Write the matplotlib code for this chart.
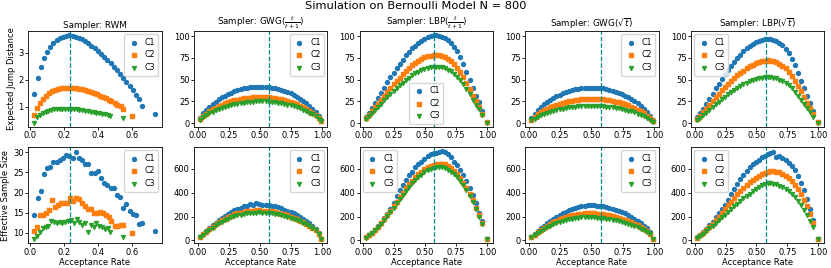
import matplotlib
matplotlib.use("Agg")
import matplotlib.pyplot as plt

# ---- RWM (acceptance rate, ESJD, ESS) ----
rwm_x1 = [0.025, 0.044, 0.063, 0.081, 0.100, 0.118, 0.137, 0.155, 0.174, 0.193, 0.211, 0.230,
          0.249, 0.267, 0.286, 0.304, 0.323, 0.342, 0.360, 0.379, 0.397, 0.416, 0.435, 0.453,
          0.472, 0.490, 0.509, 0.528, 0.546, 0.565, 0.583, 0.602, 0.621, 0.639, 0.658, 0.735]
rwm_jd1 = [1.48, 2.07, 2.48, 2.83, 3.05, 3.24, 3.37, 3.48, 3.56, 3.61, 3.64, 3.65,
           3.64, 3.61, 3.57, 3.51, 3.44, 3.36, 3.27, 3.18, 3.08, 2.97, 2.86, 2.74,
           2.62, 2.49, 2.36, 2.22, 2.08, 1.93, 1.78, 1.62, 1.46, 1.30, 1.02, 0.75]
rwm_ess1 = [14.5, 18.7, 20.3, 24.5, 26.0, 26.4, 27.6, 27.6, 28.0, 28.6, 29.3, 29.2,
            28.7, 30.2, 28.6, 28.0, 27.0, 27.0, 24.8, 24.8, 25.4, 23.7, 22.3, 21.9,
            21.2, 21.2, 19.4, 18.9, 16.2, 17.2, 15.5, 14.7, 14.5, 12.2, 12.4, 10.5]

rwm_x2 = [0.025, 0.042, 0.060, 0.077, 0.095, 0.112, 0.129, 0.147, 0.164, 0.182, 0.199, 0.216,
          0.234, 0.251, 0.269, 0.286, 0.303, 0.321, 0.338, 0.356, 0.373, 0.390, 0.408, 0.425,
          0.443, 0.460, 0.477, 0.495, 0.512, 0.530, 0.547, 0.595]
rwm_jd2 = [0.70, 0.97, 1.16, 1.31, 1.42, 1.51, 1.58, 1.63, 1.67, 1.70, 1.71, 1.72,
           1.72, 1.71, 1.70, 1.68, 1.65, 1.62, 1.59, 1.55, 1.51, 1.47, 1.42, 1.37,
           1.32, 1.27, 1.21, 1.15, 1.09, 1.02, 0.92, 0.67]
rwm_ess2 = [10.3, 11.5, 14.3, 14.5, 15.0, 15.7, 18.2, 16.3, 16.8, 17.3, 17.5, 17.3,
            18.6, 18.0, 18.6, 18.3, 17.3, 16.6, 16.0, 15.8, 15.0, 15.0, 15.2, 14.8,
            14.4, 13.8, 13.0, 11.7, 11.7, 12.0, 12.0, 10.0]

rwm_x3 = [0.025, 0.042, 0.058, 0.075, 0.091, 0.108, 0.124, 0.141, 0.157, 0.174, 0.190, 0.207,
          0.223, 0.240, 0.256, 0.273, 0.289, 0.306, 0.322, 0.339, 0.355, 0.372, 0.388, 0.405,
          0.421, 0.438, 0.454, 0.471, 0.545]
rwm_jd3 = [0.42, 0.62, 0.71, 0.78, 0.83, 0.87, 0.89, 0.91, 0.92, 0.93, 0.93, 0.93,
           0.93, 0.92, 0.92, 0.91, 0.90, 0.88, 0.87, 0.85, 0.83, 0.81, 0.79, 0.77,
           0.75, 0.73, 0.71, 0.68, 0.60]
rwm_ess3 = [8.5, 9.2, 10.2, 11.2, 11.3, 11.7, 12.9, 12.6, 12.5, 12.7, 12.3, 12.6,
            13.0, 13.2, 12.3, 13.3, 12.6, 11.8, 12.5, 10.2, 12.0, 11.5, 12.3, 11.7,
            11.4, 10.9, 11.2, 10.2, 9.0]

# ---- acceptance rates for the gradient samplers ----
grid_x = [0.02, 0.045, 0.07, 0.095, 0.12, 0.145, 0.17, 0.195, 0.22, 0.245, 0.27, 0.295, 0.32,
          0.345, 0.37, 0.395, 0.42, 0.445, 0.47, 0.495, 0.52, 0.545, 0.57, 0.595, 0.62, 0.645,
          0.67, 0.695, 0.72, 0.745, 0.77, 0.795, 0.82, 0.845, 0.87, 0.895, 0.92, 0.945, 0.97, 0.99]
lbp_x = [0.02, 0.045, 0.07, 0.095, 0.12, 0.145, 0.17, 0.195, 0.22, 0.245, 0.27, 0.295, 0.32,
         0.345, 0.37, 0.395, 0.42, 0.445, 0.47, 0.495, 0.52, 0.545, 0.57, 0.59, 0.61, 0.635,
         0.66, 0.685, 0.71, 0.735, 0.76, 0.785, 0.81, 0.835, 0.86, 0.885, 0.91, 0.935, 0.96, 1.0]

# GWG(t/(t+1))
gwg1_jd1 = [6.2, 11.2, 15.3, 18.9, 22.0, 24.8, 27.3, 29.6, 31.7, 33.5, 35.2, 36.6, 37.8, 38.9,
            39.9, 40.6, 41.2, 41.6, 41.9, 42.0, 42.0, 41.7, 41.4, 40.9, 40.2, 39.3, 38.3, 37.1,
            35.7, 34.2, 32.4, 30.5, 28.3, 25.9, 23.2, 20.2, 16.8, 12.9, 8.4, 3.7]
gwg1_jd2 = [4.4, 8.0, 11.0, 13.5, 15.7, 17.7, 19.5, 21.2, 22.6, 23.9, 25.1, 26.1, 27.0, 27.8,
            28.5, 29.0, 29.4, 29.7, 29.9, 30.0, 30.0, 29.8, 29.6, 29.2, 28.7, 28.1, 27.4, 26.5,
            25.5, 24.4, 23.2, 21.8, 20.2, 18.5, 16.6, 14.4, 12.0, 9.2, 6.0, 2.7]
gwg1_jd3 = [3.7, 6.7, 9.1, 11.2, 13.1, 14.8, 16.3, 17.6, 18.9, 20.0, 20.9, 21.8, 22.5, 23.2,
            23.7, 24.2, 24.5, 24.8, 24.9, 25.0, 25.0, 24.9, 24.6, 24.3, 23.9, 23.4, 22.8, 22.1,
            21.3, 20.4, 19.3, 18.1, 16.9, 15.4, 13.8, 12.0, 10.0, 7.7, 5.0, 2.2]
gwg1_ess1 = [30, 55, 80, 105, 130, 150, 170, 190, 205, 222, 240, 252, 265, 272, 285, 292, 308,
             298, 310, 305, 300, 296, 298, 290, 285, 276, 270, 258, 250, 238, 228, 215, 200,
             182, 165, 145, 120, 95, 62, 15]
gwg1_ess2 = [28, 50, 72, 95, 115, 135, 152, 168, 182, 195, 207, 218, 226, 233, 238, 244, 247,
             250, 252, 253, 250, 249, 246, 243, 238, 232, 225, 218, 210, 200, 190, 178, 166,
             152, 138, 122, 104, 84, 58, 15]
gwg1_ess3 = [27, 48, 68, 88, 108, 126, 142, 157, 170, 182, 193, 202, 210, 216, 221, 226, 229,
             231, 233, 234, 233, 231, 229, 226, 222, 217, 211, 205, 198, 190, 181, 171, 160,
             148, 135, 120, 103, 84, 58, 13]

# LBP(t/(t+1))
lbp1_jd1 = [7, 12, 17, 23, 29, 35, 41, 47, 53, 58, 63, 68, 73, 78, 82, 86, 89, 92, 95, 97,
            99, 100.5, 101, 101, 100.5, 99.5, 98, 95.5, 92, 88, 83, 76, 68, 59, 50, 40, 31, 24, 14, 1]
lbp1_jd2 = [5.4, 9.3, 13.5, 18.0, 22.5, 27.0, 31.5, 36.0, 40.5, 44.5, 48.5, 52.5, 56.5, 60.0,
            63.5, 66.5, 69.5, 72.0, 74.0, 75.8, 77.0, 77.8, 78.3, 78.3, 78.0, 77.2, 76.0, 74.0,
            71.5, 68.0, 64.0, 59.0, 53.0, 46.0, 39.0, 31.5, 25.0, 19.0, 11.0, 1.0]
lbp1_jd3 = [4.5, 7.7, 11.3, 15.0, 18.8, 22.5, 26.2, 30.0, 33.5, 37.0, 40.3, 43.5, 46.5, 49.5,
            52.3, 55.0, 57.3, 59.3, 61.0, 62.5, 63.7, 64.5, 65.0, 65.1, 64.8, 64.2, 63.2, 61.6,
            59.5, 56.8, 53.5, 49.5, 44.5, 39.0, 33.0, 26.5, 21.0, 16.0, 9.0, 0.5]
lbp1_ess1 = [25, 45, 65, 90, 120, 150, 185, 225, 265, 310, 370, 420, 465, 505, 545, 575, 610,
             635, 660, 685, 705, 725, 735, 730, 740, 748, 740, 720, 695, 660, 630, 590, 545,
             500, 440, 380, 310, 230, 160, 15]
lbp1_ess2 = [25, 45, 65, 88, 115, 145, 178, 212, 248, 285, 325, 365, 400, 435, 470, 500, 530,
             555, 575, 595, 610, 620, 630, 635, 640, 642, 638, 625, 605, 580, 555, 520, 480,
             440, 390, 335, 275, 210, 145, 15]
lbp1_ess3 = [24, 44, 63, 85, 110, 140, 170, 203, 238, 272, 310, 345, 380, 415, 448, 478, 505,
             530, 550, 570, 585, 598, 605, 610, 612, 610, 605, 592, 575, 553, 530, 498, 460,
             420, 372, 320, 262, 200, 135, 12]

# GWG(sqrt t)
gwg2_jd1 = [6.1, 10.9, 15.0, 18.4, 21.5, 24.2, 26.7, 28.9, 30.9, 32.7, 34.3, 35.7, 36.9, 38.0,
            38.9, 39.6, 40.2, 40.6, 40.9, 41.0, 41.0, 40.8, 40.4, 39.9, 39.2, 38.4, 37.4, 36.2,
            34.9, 33.4, 31.7, 29.7, 27.6, 25.3, 22.6, 19.7, 16.4, 12.6, 8.2, 3.6]
gwg2_jd2 = [4.1, 7.5, 10.2, 12.6, 14.7, 16.5, 18.2, 19.7, 21.1, 22.3, 23.4, 24.4, 25.2, 26.0,
            26.6, 27.1, 27.5, 27.7, 27.9, 28.0, 28.0, 27.8, 27.6, 27.2, 26.8, 26.2, 25.5, 24.8,
            23.8, 22.8, 21.6, 20.3, 18.9, 17.2, 15.5, 13.4, 11.2, 8.6, 5.6, 2.5]
gwg2_jd3 = [3.0, 5.3, 7.3, 9.0, 10.5, 11.8, 13.0, 14.1, 15.1, 16.0, 16.7, 17.4, 18.0, 18.5,
            19.0, 19.3, 19.6, 19.8, 19.9, 20.0, 20.0, 19.9, 19.7, 19.5, 19.1, 18.7, 18.2, 17.7,
            17.0, 16.3, 15.4, 14.5, 13.5, 12.3, 11.0, 9.6, 8.0, 6.2, 4.0, 1.8]
gwg2_ess1 = [28, 52, 76, 100, 122, 143, 162, 180, 197, 212, 226, 240, 252, 262, 270, 278, 284,
             290, 295, 296, 294, 292, 290, 285, 280, 274, 266, 258, 248, 238, 226, 212, 198,
             182, 165, 146, 124, 100, 68, 15]
gwg2_ess2 = [27, 48, 68, 88, 106, 123, 138, 152, 165, 176, 186, 195, 203, 210, 215, 220, 223,
             226, 228, 229, 227, 225, 222, 219, 215, 210, 204, 198, 191, 183, 174, 164, 153,
             141, 128, 114, 98, 80, 56, 13]
gwg2_ess3 = [25, 44, 62, 79, 95, 110, 124, 136, 147, 157, 165, 172, 178, 183, 187, 190, 192,
             193, 194, 194, 192, 190, 188, 185, 181, 177, 172, 167, 161, 154, 147, 139, 130,
             120, 110, 98, 85, 70, 50, 12]

# LBP(sqrt t)
lbp2_jd1 = [6.7, 11.5, 16.5, 22.0, 28.0, 34.0, 40.0, 45.5, 51.0, 56.0, 61.0, 66.0, 70.5, 75.0,
            79.0, 82.5, 86.0, 89.0, 91.5, 93.5, 95.0, 96.2, 97.0, 97.2, 97.0, 96.2, 94.8, 92.5,
            89.5, 85.5, 80.5, 74.0, 66.5, 58.0, 49.0, 40.0, 31.0, 23.5, 14.0, 1.0]
lbp2_jd2 = [5.0, 8.6, 12.5, 16.5, 21.0, 25.5, 30.0, 34.0, 38.0, 41.5, 45.0, 48.5, 52.0, 55.0,
            58.0, 60.5, 63.0, 65.5, 67.5, 69.0, 70.3, 71.3, 72.0, 72.2, 72.0, 71.3, 70.0, 68.3,
            66.0, 63.0, 59.0, 54.5, 49.0, 43.0, 36.5, 29.5, 23.0, 17.5, 10.0, 0.8]
lbp2_jd3 = [3.7, 6.3, 9.2, 12.2, 15.3, 18.5, 21.5, 24.5, 27.5, 30.3, 33.0, 35.5, 38.0, 40.3,
            42.5, 44.5, 46.3, 48.0, 49.5, 50.7, 51.7, 52.4, 52.9, 53.0, 52.8, 52.3, 51.5, 50.2,
            48.5, 46.3, 43.5, 40.0, 36.0, 31.5, 26.8, 21.8, 17.0, 12.8, 7.5, 0.5]
lbp2_ess1 = [25, 45, 68, 95, 125, 158, 192, 228, 265, 300, 340, 385, 430, 470, 510, 545, 580,
             610, 635, 655, 675, 695, 710, 720, 735, 740, 700, 705, 690, 670, 650, 620, 585,
             540, 480, 420, 345, 260, 170, 15]
lbp2_ess2 = [24, 42, 62, 85, 110, 138, 168, 200, 232, 262, 295, 325, 355, 385, 415, 440, 465,
             488, 505, 525, 540, 555, 565, 572, 580, 578, 575, 570, 555, 540, 520, 495, 465,
             430, 390, 340, 285, 225, 150, 12]
lbp2_ess3 = [23, 40, 58, 78, 100, 122, 145, 168, 192, 215, 240, 262, 285, 308, 330, 352, 372,
             392, 410, 428, 445, 460, 475, 478, 480, 475, 468, 458, 445, 428, 410, 388, 362,
             332, 298, 258, 212, 165, 110, 10]

titles = ['Sampler: RWM', r'Sampler: GWG($\frac{t}{t+1}$)', r'Sampler: LBP($\frac{t}{t+1}$)',
          r'Sampler: GWG($\sqrt{t}$)', r'Sampler: LBP($\sqrt{t}$)']
optimal = [0.234, 0.574, 0.574, 0.574, 0.574]

panels = [
    ([rwm_x1, rwm_x2, rwm_x3], [rwm_jd1, rwm_jd2, rwm_jd3], [rwm_ess1, rwm_ess2, rwm_ess3]),
    ([grid_x] * 3, [gwg1_jd1, gwg1_jd2, gwg1_jd3], [gwg1_ess1, gwg1_ess2, gwg1_ess3]),
    ([lbp_x] * 3, [lbp1_jd1, lbp1_jd2, lbp1_jd3], [lbp1_ess1, lbp1_ess2, lbp1_ess3]),
    ([grid_x] * 3, [gwg2_jd1, gwg2_jd2, gwg2_jd3], [gwg2_ess1, gwg2_ess2, gwg2_ess3]),
    ([lbp_x] * 3, [lbp2_jd1, lbp2_jd2, lbp2_jd3], [lbp2_ess1, lbp2_ess2, lbp2_ess3]),
]
legend_top = ['upper right', 'upper right', 'lower center', 'upper right', 'upper left']
legend_bot = ['upper right', 'upper right', 'upper left', 'upper right', 'upper left']

colors = ['tab:blue', 'tab:orange', 'tab:green']
markers = ['o', 's', 'v']
labels = ['C1', 'C2', 'C3']

fs = 6.0
fig, axes = plt.subplots(2, 5, figsize=(8.31, 2.68), dpi=100)

for j, (xs, jds, esss) in enumerate(panels):
    for row, ys in enumerate([jds, esss]):
        ax = axes[row, j]
        for k in range(3):
            ax.scatter(xs[k], ys[k], s=8, color=colors[k], marker=markers[k], label=labels[k])
        ax.axvline(optimal[j], ls='--', color='darkcyan', lw=0.9)
        ax.tick_params(labelsize=fs, length=2, width=0.6, pad=1.2)
        for sp in ax.spines.values():
            sp.set_linewidth(0.6)
        loc = legend_top[j] if row == 0 else legend_bot[j]
        ax.legend(loc=loc, fontsize=fs - 0.3, handletextpad=0.6, borderpad=0.45,
                  labelspacing=0.45, handlelength=1.5, borderaxespad=0.4)
    axes[0, j].set_title(titles[j], fontsize=6.3, pad=2.5)
    axes[1, j].set_xlabel('Acceptance Rate', fontsize=fs, labelpad=1)

for j in range(1, 5):
    axes[0, j].set_ylim(-4.5, 106)
    axes[1, j].set_ylim(-22, 780)
    axes[0, j].set_yticks([0, 25, 50, 75, 100])
    axes[1, j].set_yticks([0, 200, 400, 600])
    axes[0, j].set_xticks([0, 0.25, 0.5, 0.75, 1.0])
    axes[1, j].set_xticks([0, 0.25, 0.5, 0.75, 1.0])

axes[0, 0].set_ylabel('Expected Jump Distance', fontsize=fs, labelpad=2)
axes[1, 0].set_ylabel('Effective Sample Size', fontsize=fs, labelpad=2)

fig.suptitle('Simulation on Bernoulli Model N = 800', fontsize=8.2, y=0.995, va='top')
fig.subplots_adjust(left=0.034, right=0.992, bottom=0.093, top=0.884, wspace=0.243, hspace=0.21)
fig.savefig('out.png', dpi=100)
